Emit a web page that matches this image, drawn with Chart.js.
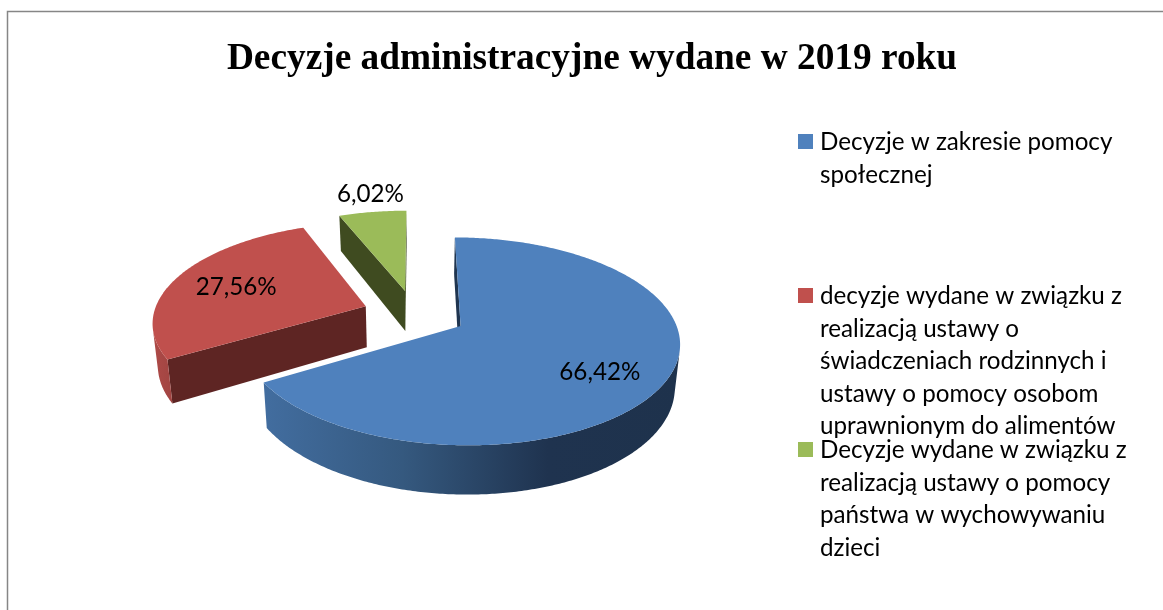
<!DOCTYPE html>
<html lang="pl">
<head>
<meta charset="utf-8">
<style>html,body{margin:0;padding:0;background:#fff}#w{position:relative;width:1163px;height:610px}</style>
<script src="https://cdn.jsdelivr.net/npm/chart.js@4/dist/chart.umd.min.js"></script>
</head>
<body>
<div id="w"><canvas id="c" width="1163" height="610"></canvas></div>
<script>
const chartTitle = 'Decyzje administracyjne wydane w 2019 roku';
const categories = [
  'Decyzje w zakresie pomocy społecznej',
  'decyzje wydane w związku z realizacją ustawy o świadczeniach rodzinnych i ustawy o pomocy osobom uprawnionym do alimentów',
  'Decyzje wydane w związku z realizacją ustawy o pomocy państwa w wychowywaniu dzieci'
];
const categoryLines = [
  ['Decyzje w zakresie pomocy', 'społecznej'],
  ['decyzje wydane w związku z', 'realizacją ustawy o', 'świadczeniach rodzinnych i', 'ustawy o pomocy osobom', 'uprawnionym do alimentów'],
  ['Decyzje wydane w związku z', 'realizacją ustawy o pomocy', 'państwa w wychowywaniu', 'dzieci']
];
const values = [66.42, 27.56, 6.02];
const topColors = ['#4F81BD', '#C0504D', '#9BBB59'];
const wallColors = ['#1F3550', '#5E2523', '#3F4B20'];

// Scene settings for the 3D look of the pie
const CAM = {vx: 416, horizon: -364, h: 690, D: 1466, cx: -1.5, cy: 26, thick: 42, shrink: 0.98};
const RIMS = [
  {from: 265, to: 681, stops: [[0, '#426D9F'], [0.33, '#35597F'], [0.68, '#1F334F'], [1, '#1E324C']]},
  {from: 150, to: 200, stops: [[0, '#B04B48'], [1, '#8E3C3A']]},
  {from: 330, to: 410, stops: [[0, '#7E984A'], [1, '#7E984A']]}
];
const LABEL_POS = [{r: 0.723, turn: 5.4}, {r: 0.68, turn: 0}, {r: 1.285, turn: 1.5}];
const LEGEND = {box: 798, size: 15, text: 820, line: 32.5, baselines: [149, 303, 457], textDrop: 1};
const BODY_FONT = 'Lato, Carlito, sans-serif';
const BODY_SIZE = 24.2;

function project(dx, dy, low) {
  const X = dx + CAM.cx, Y = -dy + CAM.cy;
  const p = 1 / (1 + Y / CAM.D);
  return [CAM.vx + X * p * (low ? CAM.shrink : 1), CAM.horizon + (CAM.h + (low ? CAM.thick : 0)) * p];
}
function poly(ctx, pts, fill) {
  ctx.beginPath();
  pts.forEach((q, i) => i ? ctx.lineTo(q[0], q[1]) : ctx.moveTo(q[0], q[1]));
  ctx.closePath();
  ctx.fillStyle = fill;
  ctx.fill();
}
function facing(a, b, c) {
  return (b[0] - a[0]) * (c[1] - b[1]) - (b[1] - a[1]) * (c[0] - b[0]) < 0;
}
const pie3d = {
  id: 'pie3d',
  beforeDatasetsDraw(chart) {
    const ctx = chart.ctx;
    const arcs = chart.getDatasetMeta(0).data;
    ctx.save();
    for (let i = arcs.length - 1; i >= 0; i--) {
      const a = arcs[i], R = a.outerRadius, off = a.options.offset;
      const mid = (a.startAngle + a.endAngle) / 2;
      const ox = off * Math.cos(mid), oy = off * Math.sin(mid);
      const n = Math.max(6, Math.ceil((a.endAngle - a.startAngle) * 90));
      const up = [], lo = [];
      for (let k = 0; k <= n; k++) {
        const t = a.startAngle + (a.endAngle - a.startAngle) * k / n;
        const dx = ox + R * Math.cos(t), dy = oy + R * Math.sin(t);
        up.push(project(dx, dy, false));
        lo.push(project(dx, dy, true));
      }
      const tipU = project(ox, oy, false), tipL = project(ox, oy, true);
      // cut walls that face the viewer
      if (facing(tipU, up[0], lo[0])) poly(ctx, [tipU, up[0], lo[0], tipL], wallColors[i]);
      if (!facing(tipU, up[n], lo[n])) poly(ctx, [tipU, up[n], lo[n], tipL], wallColors[i]);
      // rim: only the stretch that faces the viewer
      const rim = RIMS[i];
      const g = ctx.createLinearGradient(rim.from, 0, rim.to, 0);
      rim.stops.forEach(s => g.addColorStop(s[0], s[1]));
      let runU = [], runL = [];
      const flush = () => {
        if (runU.length > 1) poly(ctx, runU.concat(runL.slice().reverse()), g);
        runU = []; runL = [];
      };
      for (let k = 0; k < n; k++) {
        if (facing(up[k], up[k + 1], lo[k + 1])) {
          if (!runU.length) { runU.push(up[k]); runL.push(lo[k]); }
          runU.push(up[k + 1]); runL.push(lo[k + 1]);
        } else flush();
      }
      flush();
      // top face
      poly(ctx, [tipU].concat(up), topColors[i]);
    }
    // data labels
    ctx.fillStyle = '#000';
    ctx.font = BODY_SIZE + 'px ' + BODY_FONT;
    ctx.textAlign = 'center';
    ctx.textBaseline = 'middle';
    arcs.forEach((a, i) => {
      const off = a.options.offset, mid = (a.startAngle + a.endAngle) / 2;
      const l = LABEL_POS[i], t = mid + l.turn * Math.PI / 180;
      const q = project(off * Math.cos(mid) + l.r * a.outerRadius * Math.cos(t),
                        off * Math.sin(mid) + l.r * a.outerRadius * Math.sin(t), false);
      ctx.fillText(values[i].toFixed(2).replace('.', ',') + '%', q[0], q[1] + 1.5);
    });
    ctx.restore();
    return false;
  },
  afterDraw(chart) {
    const ctx = chart.ctx;
    ctx.save();
    // frame
    ctx.strokeStyle = '#868686';
    ctx.lineWidth = 1.5;
    ctx.beginPath();
    ctx.moveTo(7.5, 610); ctx.lineTo(7.5, 11.5); ctx.lineTo(1163, 11.5);
    ctx.stroke();
    // legend
    ctx.font = BODY_SIZE + 'px ' + BODY_FONT;
    ctx.textAlign = 'left';
    ctx.textBaseline = 'alphabetic';
    categoryLines.forEach((lines, i) => {
      const b = LEGEND.baselines[i];
      ctx.fillStyle = topColors[i];
      ctx.fillRect(LEGEND.box, b - LEGEND.size, LEGEND.size, LEGEND.size);
      ctx.fillStyle = '#000';
      lines.forEach((s, j) => ctx.fillText(s, LEGEND.text, b + LEGEND.textDrop + j * LEGEND.line));
    });
    ctx.restore();
  }
};
new Chart(document.getElementById('c'), {
  type: 'pie',
  data: {labels: categories, datasets: [{data: values, backgroundColor: topColors, borderWidth: 0, offset: 53}]},
  options: {
    responsive: false,
    animation: false,
    radius: 216,
    layout: {padding: {left: 21}},
    plugins: {
      legend: {display: false},
      tooltip: {enabled: false},
      title: {
        display: true,
        text: chartTitle,
        color: '#000',
        font: {family: '"Liberation Serif", serif', size: 37.35, weight: 'bold'},
        padding: {top: 37, bottom: 10}
      }
    }
  },
  plugins: [pie3d]
});
</script>
</body>
</html>
